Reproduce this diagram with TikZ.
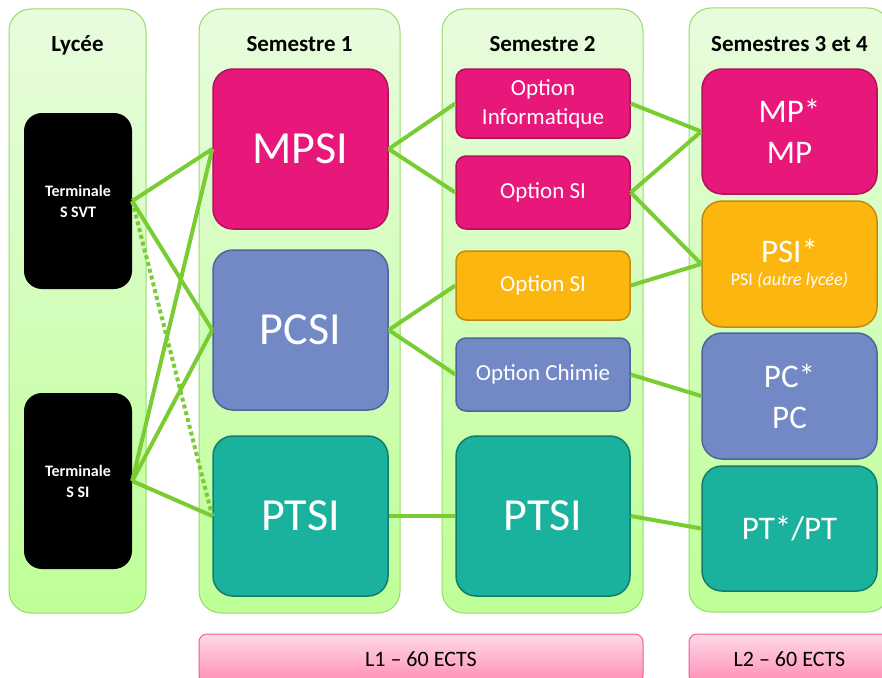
\documentclass[tikz,border=0pt]{standalone}
\usepackage{fontspec}
\setmainfont{Carlito}

\definecolor{coltop}{RGB}{232,252,222}
\definecolor{colbottom}{RGB}{190,255,150}
\definecolor{colborder}{RGB}{150,218,105}
\definecolor{magentabox}{RGB}{232,23,122}
\definecolor{magentaline}{RGB}{176,18,92}
\definecolor{bluebox}{RGB}{114,137,198}
\definecolor{blueline}{RGB}{80,100,156}
\definecolor{tealbox}{RGB}{27,178,157}
\definecolor{tealline}{RGB}{18,124,108}
\definecolor{orangebox}{RGB}{251,182,16}
\definecolor{orangeline}{RGB}{196,138,14}
\definecolor{linkgreen}{RGB}{122,204,51}
\definecolor{pinktop}{RGB}{255,218,232}
\definecolor{pinkbottom}{RGB}{255,140,180}
\definecolor{pinkline}{RGB}{238,90,150}

\tikzstyle{column} = [draw=colborder, line width=1pt, rounded corners=22pt, top color=coltop, bottom color=colbottom, minimum width=201pt, minimum height=604pt, inner sep=0pt]
\tikzstyle{head} = [anchor=base, font=\bfseries\fontsize{23}{28}\selectfont]
\tikzstyle{lyc} = [fill=black, rounded corners=18pt, minimum width=108pt, minimum height=176pt, text=white, align=center, inner sep=0pt, font=\bfseries\fontsize{16}{21}\selectfont]
\tikzstyle{big} = [rounded corners=20pt, line width=1.5pt, minimum width=175pt, text=white, align=center, inner sep=0pt]
\tikzstyle{opt} = [rounded corners=10pt, line width=1.5pt, minimum width=174pt, text=white, align=center, inner sep=0pt, font=\fontsize{23}{29}\selectfont]
\tikzstyle{mag} = [fill=magentabox, draw=magentaline]
\tikzstyle{blu} = [fill=bluebox, draw=blueline]
\tikzstyle{tea} = [fill=tealbox, draw=tealline]
\tikzstyle{ora} = [fill=orangebox, draw=orangeline]
\tikzstyle{huge} = [font=\fontsize{46}{50}\selectfont]
\tikzstyle{l2} = [font=\fontsize{33}{41}\selectfont]
\tikzstyle{ects} = [draw=pinkline, line width=1pt, rounded corners=8pt, top color=pinktop, bottom color=pinkbottom, minimum height=50pt, inner sep=0pt, font=\fontsize{22}{26}\selectfont]
\tikzstyle{link} = [draw=linkgreen, line width=4pt]

\begin{document}
\begin{tikzpicture}[x=1pt, y=-1pt]
  \useasboundingbox (0,0) rectangle (882,677);

  % colonnes
  \node[column, minimum width=137pt] (collycee) at (77.5,311) {};
  \node[column] (colsem1) at (299.5,311) {};
  \node[column] (colsem2) at (542.5,311) {};
  \node[column] (colsem34) at (789.5,310) {};

  \node[head] at (77.5,52) {Lycée};
  \node[head] at (299.5,52) {Semestre 1};
  \node[head] at (542.5,52) {Semestre 2};
  \node[head] at (789.5,52) {Semestres 3 et 4};

  % lycee
  \node[lyc] (svt) at (78,201) {Terminale\\S SVT};
  \node[lyc] (tsi) at (78,481) {Terminale\\S SI};

  % semestre 1
  \node[big, mag, huge, minimum height=160pt] (mpsi) at (300.5,149) {MPSI};
  \node[big, blu, huge, minimum height=160pt] (pcsi) at (300.5,330) {PCSI};
  \node[big, tea, huge, minimum height=160pt] (ptsia) at (300.5,516) {PTSI};

  % semestre 2
  \node[opt, mag, minimum height=69pt] (optinfo) at (543,103.5) {Option\\Informatique};
  \node[opt, mag, minimum height=73pt] (optsi) at (543,192.5) {Option SI};
  \node[opt, ora, minimum height=69pt] (optsib) at (543,285.5) {Option SI};
  \node[opt, blu, minimum height=73pt] (optchim) at (543,374.5) {Option Chimie};
  \node[big, tea, huge, minimum width=174pt, minimum height=160pt] (ptsib) at (543,516) {PTSI};

  % semestres 3 et 4
  \node[big, mag, l2, minimum height=125pt] (mp) at (789.5,131.5) {MP*\\MP};
  \node[big, ora, minimum height=126pt] (psi) at (789.5,264) {{\fontsize{33}{33}\selectfont PSI*}\\[9pt]{\fontsize{18}{20}\selectfont PSI \textit{(autre lycée)}}};
  \node[big, blu, l2, minimum height=126pt] (pc) at (789.5,396) {PC*\\PC};
  \node[big, tea, l2, minimum height=125pt] (pt) at (789.5,528.5) {PT*/PT};

  % licences
  \node[ects, minimum width=444pt] (lun) at (421,659) {L1 -- 60 ECTS};
  \node[ects, minimum width=201pt] (ldeux) at (789.5,659) {L2 -- 60 ECTS};

  % liens
  \draw[link] (svt.east) -- (mpsi.west);
  \draw[link] (svt.east) -- (pcsi.west);
  \draw[link, dash pattern=on 4pt off 3pt] (svt.east) -- (ptsia.west);
  \draw[link] (tsi.east) -- (mpsi.west);
  \draw[link] (tsi.east) -- (pcsi.west);
  \draw[link] (tsi.east) -- (ptsia.west);

  \draw[link] (mpsi.east) -- (optinfo.west);
  \draw[link] (mpsi.east) -- (optsi.west);
  \draw[link] (pcsi.east) -- (optsib.west);
  \draw[link] (pcsi.east) -- (optchim.west);
  \draw[link] (ptsia.east) -- (ptsib.west);

  \draw[link] (optinfo.east) -- (mp.west);
  \draw[link] (optsi.east) -- (mp.west);
  \draw[link] (optsi.east) -- (psi.west);
  \draw[link] (optsib.east) -- (psi.west);
  \draw[link] (optchim.east) -- (pc.west);
  \draw[link] (ptsib.east) -- (pt.west);
\end{tikzpicture}
\end{document}
